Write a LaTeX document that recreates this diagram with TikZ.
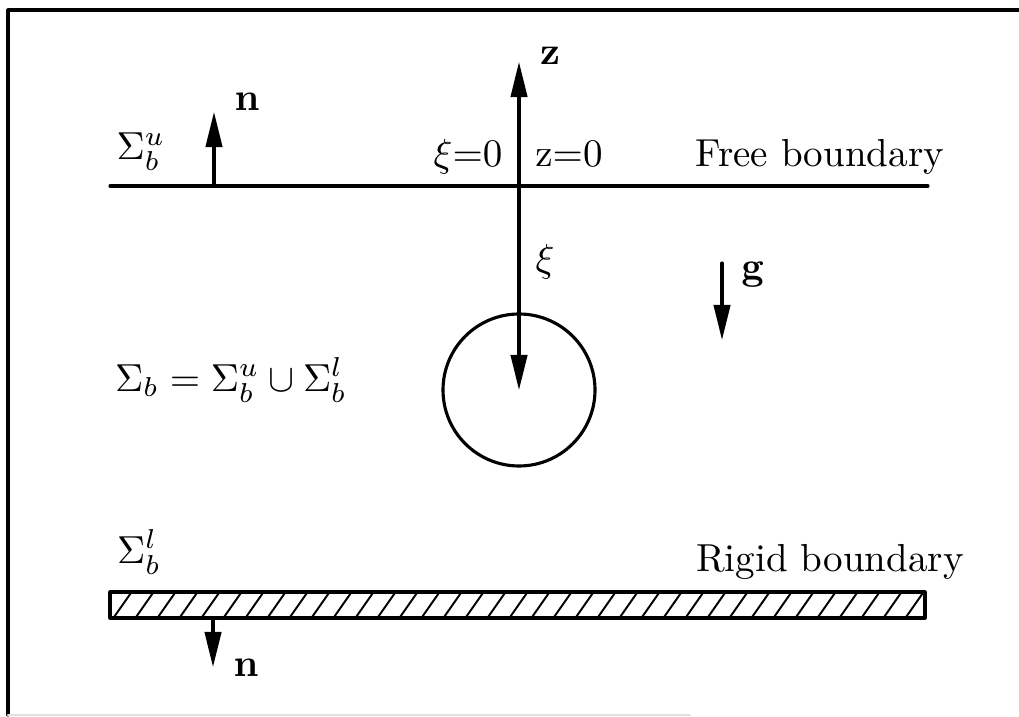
\documentclass[tikz,border=0pt]{standalone}
\usepackage{amsfonts,amsmath,amssymb}
\usepackage{tikz}
\usetikzlibrary{arrows.meta,positioning}
\tikzset{
  every picture/.style={line join=round, line cap=round, >={Triangle[length=9pt,width=4.2pt]}},
  bdry/.style={line width=0.8pt},
  vec/.style={line width=0.8pt,->},
  hatch/.style={line width=0.5pt},
}

\begin{document}
\begin{tikzpicture}[x=0.009cm,y=-0.009cm]
\useasboundingbox(0,0)rectangle(1019,717);
% frame
\coordinate(fa)at(1019,10);
\coordinate(fb)at(8,10);
\coordinate(fc)at(8,715);
\coordinate(fd)at(690,715);
\draw[bdry](fa)--(fb)--(fc);
\draw[line width=0.6pt,black!12](fc)--(fd);
% free boundary
\coordinate(fl)at(110,186);
\coordinate(fr)at(928,186);
\draw[bdry](fl)--(fr);
% axis and body
\coordinate(o)at(519,186);
\coordinate(ztip)at(519,62);
\coordinate(c)at(519,390);
\draw[vec](o)--(ztip);
\draw[vec](o)--(c);
\draw[bdry](c)circle(76);
% rigid boundary
\coordinate(rl)at(110,592);
\coordinate(rr)at(925,618);
\begin{scope}
\clip(rl)rectangle(rr);
\foreach \x in {90,112,...,940}
  \draw[hatch](\x,620)--(\x+21,590);
\end{scope}
\draw[bdry](rl)rectangle(rr);
% normals and gravity
\coordinate(nu0)at(214,186);
\coordinate(nu1)at(214,112);
\coordinate(nl0)at(213,618);
\coordinate(nl1)at(213,667);
\coordinate(g0)at(722,263);
\coordinate(g1)at(722,340);
\draw[vec](nu0)--(nu1);
\draw[vec](nl0)--(nl1);
\draw[vec](g0)--(g1);
% labels
\node(su)at(141,152){$\Sigma_b^u$};
\node(nu)at(247,102){$\mathbf{n}$};
\node(zl)at(550,56){$\mathbf{z}$};
\node[anchor=base](xi0)at(468,167){$\xi{=}0$};
\node[anchor=base](z0)at(569,167){$\mathrm{z}{=}0$};
\node[anchor=base](free)at(820,167){Free boundary};
\node(xi)at(545,262){$\xi$};
\node[anchor=base](gl)at(753,280){$\mathbf{g}$};
\node(eq)at(231,380){$\Sigma_b=\Sigma_b^u\cup\Sigma_b^l$};
\node(sl)at(139,552){$\Sigma_b^l$};
\node[anchor=base](rigid)at(830,572){Rigid boundary};
\node(nl)at(246,668){$\mathbf{n}$};
\end{tikzpicture}
\end{document}
